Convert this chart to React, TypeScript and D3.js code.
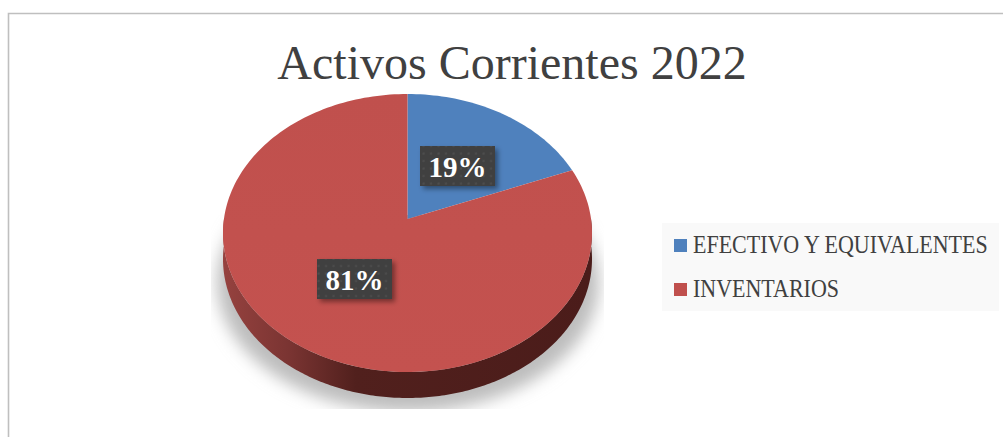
import React from "react";
import * as d3 from "d3";

const categories = ["EFECTIVO Y EQUIVALENTES", "INVENTARIOS"];
const values = [19, 81];
const colors = ["#4f81bd", "#c0504d"];
const labels = ["19%", "81%"];
const title = "Activos Corrientes 2022";

const W = 1003, H = 437;
const cx = 407.5, cy = 233, rx = 184.5, ry = 139, depth = 26, k = -0.1;

// perspective map of the unit disc to the tilted ellipse
const project = (a: number, r = 1): [number, number] => {
  const u = r * Math.sin(a), v = -r * Math.cos(a);
  const d = 1 + k * v;
  return [cx + (rx * u * Math.sqrt(1 - k * k)) / d, cy + (ry * (v + k)) / d];
};

const pie = d3.pie<number>().sort(null).startAngle(0).endAngle(2 * Math.PI);
const arcs = pie(values);
const line = d3.line();

const slicePath = (a0: number, a1: number) => {
  const n = Math.ceil(((a1 - a0) / (2 * Math.PI)) * 240);
  const pts: [number, number][] = [project(0, 0)];
  d3.range(n + 1).forEach((i) => pts.push(project(a0 + ((a1 - a0) * i) / n)));
  return line(pts) + "Z";
};

const sidePath = () => {
  const a = d3.range(0, 241).map((i) => project(Math.PI / 2 + (Math.PI * i) / 240));
  const b = a.slice().reverse().map(([x, y]) => [x, y + depth] as [number, number]);
  return line([...a, ...b]) + "Z";
};

const labelBoxes = [
  { x: 420, y: 146 },
  { x: 317, y: 259 },
];

export default function App() {
  return (
    <svg width={W} height={H} style={{ position: "absolute", left: 0, top: 0, background: "#fff" }}>
      <defs>
        <linearGradient id="side" gradientUnits="userSpaceOnUse" x1={cx - rx} x2={cx + rx} y1="0" y2="0">
          <stop offset="0" stopColor="#96423f" />
          <stop offset="0.18" stopColor="#7a3432" />
          <stop offset="0.36" stopColor="#51201d" />
          <stop offset="1" stopColor="#4b1c1a" />
        </linearGradient>
        <linearGradient id="face" x1="0" x2="0" y1="0" y2="1">
          <stop offset="0" stopColor="#c0504d" />
          <stop offset="1" stopColor="#c4524f" />
        </linearGradient>
        <filter id="blur" x="-20%" y="-20%" width="140%" height="140%">
          <feGaussianBlur stdDeviation="8" />
        </filter>
        <clipPath id="shadowClip">
          <rect x="211" y="215" width="393" height="194" />
        </clipPath>
        <pattern id="dots" width="7.5" height="7.5" patternUnits="userSpaceOnUse">
          <rect width="7.5" height="7.5" fill="#404040" />
          <rect x="2.5" y="2.5" width="2" height="2" fill="#4f4f4f" />
        </pattern>
        <filter id="boxShadow" x="-20%" y="-30%" width="140%" height="170%">
          <feDropShadow dx="3" dy="3" stdDeviation="2.5" floodColor="#000" floodOpacity="0.4" />
        </filter>
      </defs>

      <path d={`M8.5 ${H}V13.5H${W}`} fill="none" stroke="#bfbfbf" strokeWidth="1.6" />

      <text x="512" y="79" textAnchor="middle" fontFamily="'Liberation Serif'" fontSize="48" fill="#404040">
        {title}
      </text>

      <g clipPath="url(#shadowClip)">
        <ellipse cx={cx + 0.5} cy={282} rx={191} ry={130} fill="#bdbdbd" filter="url(#blur)" />
      </g>

      <path d={sidePath()} fill="url(#side)" />

      {arcs.map((d, i) => (
        <path key={i} d={slicePath(d.startAngle, d.endAngle)} fill={i === 1 ? "url(#face)" : colors[i]} />
      ))}

      {labels.map((t, i) => (
        <g key={t}>
          <rect x={labelBoxes[i].x} y={labelBoxes[i].y} width="75" height="40" fill="url(#dots)" filter="url(#boxShadow)" />
          <text
            x={labelBoxes[i].x + 37.5}
            y={labelBoxes[i].y + 31}
            textAnchor="middle"
            fontFamily="'Liberation Serif'"
            fontWeight="bold"
            fontSize="29"
            fill="#fff"
          >
            {t}
          </text>
        </g>
      ))}

      <rect x="662" y="223" width="337" height="88" fill="#f9f9f9" />
      {categories.map((c, i) => (
        <g key={c}>
          <rect x="674" y={239 + i * 44} width="13" height="13" fill={colors[i]} />
          <text
            transform={`translate(693 ${253 + i * 44}) scale(1 1.115)`}
            fontFamily="'Liberation Serif'"
            fontSize="22"
            fill="#404040"
          >
            {c}
          </text>
        </g>
      ))}
    </svg>
  );
}
